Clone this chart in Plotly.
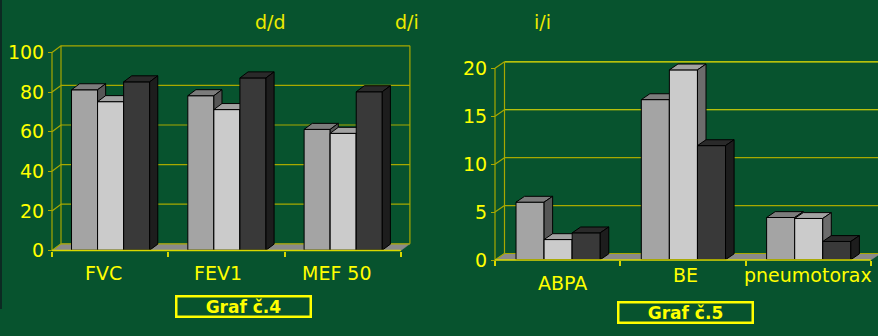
import plotly.graph_objects as go

W, H = 878, 336

# ---- data -------------------------------------------------------------
series_names = ["d/d", "d/i", "i/i"]

spiro_categories = ["FVC", "FEV1", "MEF 50"]
spiro_dd = [81, 78, 61]
spiro_di = [75, 71, 59]
spiro_ii = [85, 87, 80]
spiro_ticks = [0, 20, 40, 60, 80, 100]

compl_categories = ["ABPA", "BE", "pneumotorax"]
compl_dd = [6.0, 16.7, 4.4]
compl_di = [2.1, 19.8, 4.3]
compl_ii = [2.8, 11.9, 1.9]
compl_ticks = [0, 5, 10, 15, 20]

chart_titles = ["Graf č.4", "Graf č.5"]

# ---- styling ----------------------------------------------------------
BG = "#07532e"
YELLOW = "#ffff00"
OLIVE = "#a8a800"
BRIGHT = "#f2e600"
FLOOR = "#8a8a8a"
FONT = "DejaVu Sans, Verdana, Arial, sans-serif"

# front / top / side shades for each series
FACE = [
    ("#a4a4a4", "#7c7c7c", "#565656"),
    ("#cbcbcb", "#a2a2a2", "#6c6c6c"),
    ("#393939", "#2a2a2a", "#1d1d1d"),
]

# pixel geometry of each panel: front-axis x, px per category,
# y of value 0, px per value unit, horizontal span, depth offset (px)
panels = [
    dict(cats=spiro_categories, series=[spiro_dd, spiro_di, spiro_ii],
         ticks=spiro_ticks, px_left=52, px_cat=116.3, px_zero=250.5,
         px_unit=1.98, span=(0, 440), depth=(9.0, 6.7),
         grid_colors=[OLIVE] * 6,
         label_dx=[-0.06, -0.07, -0.05], label_py=[273, 273, 273],
         title_box=(243, 306.5)),
    dict(cats=compl_categories, series=[compl_dd, compl_di, compl_ii],
         ticks=compl_ticks, px_left=495, px_cat=125.3, px_zero=260,
         px_unit=9.585, span=(440, 878), depth=(9.5, 6.5),
         grid_colors=[OLIVE, OLIVE, OLIVE, BRIGHT, BRIGHT],
         label_dx=[0.04, 0.02, 0.0], label_py=[282.5, 274.5, 275],
         title_box=(685, 312)),
]

BAR_W = 0.224        # bar width in category units
DEPTH_FRONT = 0.05   # bar front face position within the depth
DEPTH_BACK = 0.95    # bar back face position within the depth

fig = go.Figure()
layout_axes = {}
annotations = []

for p_i, p in enumerate(panels):
    sfx = "" if p_i == 0 else str(p_i + 1)
    xa, ya = "x" + sfx, "y" + sfx
    n = len(p["cats"])
    a, b = p["span"]
    xl, xr = -0.5, n - 0.5
    top = p["ticks"][-1]
    ddx = p["depth"][0] / p["px_cat"]
    ddy = p["depth"][1] / p["px_unit"]

    def line(xs, ys, color, width=1.2):
        fig.add_trace(go.Scatter(x=xs, y=ys, mode="lines", xaxis=xa, yaxis=ya,
                                 line=dict(color=color, width=width),
                                 hoverinfo="skip", showlegend=False))

    # floor
    fig.add_trace(go.Scatter(
        x=[xl, xr, xr + ddx, xl + ddx, xl], y=[0, 0, ddy, ddy, 0],
        mode="lines", fill="toself", fillcolor=FLOOR,
        line=dict(color=FLOOR, width=0.5), xaxis=xa, yaxis=ya,
        hoverinfo="skip", showlegend=False))

    # back wall gridlines and side-wall tick diagonals
    for t, c in zip(p["ticks"], p["grid_colors"]):
        line([xl + ddx, xr + ddx], [t + ddy, t + ddy], c)
        line([xl, xl + ddx], [t, t + ddy], OLIVE)
    line([xl + ddx, xl + ddx], [ddy, top + ddy], OLIVE)
    line([xr + ddx, xr + ddx], [ddy, top + ddy], OLIVE)
    line([xl, xl], [0, top], OLIVE)

    # 3D bars, series by series (left to right within each group)
    f0x, f0y = DEPTH_FRONT * ddx, DEPTH_FRONT * ddy
    f1x, f1y = DEPTH_BACK * ddx, DEPTH_BACK * ddy
    for k, vals in enumerate(p["series"]):
        fronts = ([], [])
        tops = ([], [])
        sides = ([], [])
        for i, v in enumerate(vals):
            x0 = i - 1.5 * BAR_W + k * BAR_W
            x1 = x0 + BAR_W
            fronts[0].extend([x0 + f0x, x1 + f0x, x1 + f0x, x0 + f0x, x0 + f0x, None])
            fronts[1].extend([f0y, f0y, v + f0y, v + f0y, f0y, None])
            tops[0].extend([x0 + f0x, x1 + f0x, x1 + f1x, x0 + f1x, x0 + f0x, None])
            tops[1].extend([v + f0y, v + f0y, v + f1y, v + f1y, v + f0y, None])
            sides[0].extend([x1 + f0x, x1 + f1x, x1 + f1x, x1 + f0x, x1 + f0x, None])
            sides[1].extend([f0y, f1y, v + f1y, v + f0y, f0y, None])
        for (xs, ys), col in zip([fronts, tops, sides], FACE[k]):
            fig.add_trace(go.Scatter(
                x=xs, y=ys, mode="lines", fill="toself", fillcolor=col,
                line=dict(color="#000000", width=1), xaxis=xa, yaxis=ya,
                name=series_names[k], hoverinfo="skip", showlegend=False))

    # floor front edge
    line([xl, xr], [0, 0], "#d8d800", 1.5)

    layout_axes["xaxis" + sfx] = dict(
        domain=[a / W, b / W],
        range=[xl - (p["px_left"] - a) / p["px_cat"],
               xl + (b - p["px_left"]) / p["px_cat"]],
        anchor="free", position=(H - p["px_zero"]) / H,
        tickmode="array", tickvals=[i - 0.5 for i in range(n + 1)],
        showticklabels=False, ticks="outside", ticklen=5, tickwidth=1.5,
        tickcolor="#d8d800", showgrid=False, zeroline=False, showline=False,
        fixedrange=True)
    layout_axes["yaxis" + sfx] = dict(
        domain=[0, 1],
        range=[-(H - p["px_zero"]) / p["px_unit"], p["px_zero"] / p["px_unit"]],
        anchor="free", position=p["px_left"] / W,
        tickmode="array", tickvals=p["ticks"],
        ticks="outside", ticklen=4, tickcolor=OLIVE, tickwidth=1.2,
        tickfont=dict(family=FONT, size=19, color=YELLOW),
        showgrid=False, zeroline=False, showline=False, fixedrange=True)

    # category labels
    for i, (cat, dx, py) in enumerate(zip(p["cats"], p["label_dx"], p["label_py"])):
        annotations.append(dict(
            x=i + dx, xref=xa, y=1 - py / H, yref="paper", text=cat,
            showarrow=False, xanchor="center", yanchor="middle",
            font=dict(family=FONT, size=19, color=YELLOW)))

    # boxed chart caption
    cx, cy = p["title_box"]
    annotations.append(dict(
        x=cx / W, y=1 - cy / H, xref="paper", yref="paper",
        text="<b>%s</b>" % chart_titles[p_i], showarrow=False,
        xanchor="center", yanchor="middle", width=132, height=18,
        borderpad=0, bordercolor=YELLOW, borderwidth=2.5,
        font=dict(family=FONT, size=17, color=YELLOW)))

# series names across the top
for name, px in zip(series_names, [270, 407, 542]):
    annotations.append(dict(
        x=px / W, y=1 - 22 / H, xref="paper", yref="paper", text=name,
        showarrow=False, xanchor="center", yanchor="middle",
        font=dict(family=FONT, size=19, color="#eaea00")))

fig.update_layout(
    width=W, height=H, margin=dict(l=0, r=0, t=0, b=0),
    paper_bgcolor=BG, plot_bgcolor="rgba(0,0,0,0)",
    showlegend=False, annotations=annotations,
    shapes=[dict(type="rect", xref="paper", yref="paper",
                 x0=0, x1=2 / W, y0=0.08, y1=1,
                 fillcolor="#0c2a22", line=dict(width=0), layer="above")],
    **layout_axes)

fig.write_html("out.html")
